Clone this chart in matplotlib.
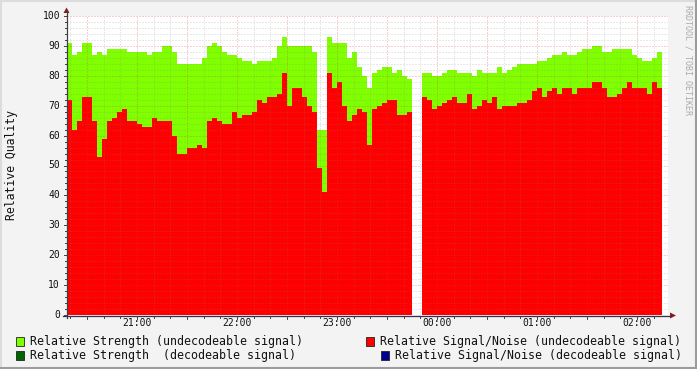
import numpy as np
import matplotlib
matplotlib.use("Agg")
import matplotlib.pyplot as plt
from matplotlib.patches import Rectangle, Polygon
from matplotlib.lines import Line2D

nan = float("nan")

# time axis: hours relative to 21:00, 3-minute steps
start_hour = -0.70
step_hour = 0.05

strength_undec = [
    91, 87, 88, 91, 91, 87, 88, 87, 89, 89, 89, 89, 88, 88, 88, 88, 87, 88, 88, 90,
    90, 88, 84, 84, 84, 84, 84, 86, 90, 91, 90, 88, 87, 87, 86, 85, 85, 84, 85, 85,
    85, 86, 90, 93, 90, 90, 90, 90, 90, 88, 62, 62, 93, 91, 91, 91, 86, 88, 83, 80,
    76, 81, 82, 83, 83, 81, 82, 80, 79, nan, nan, 81, 81, 80, 80, 81, 82, 82, 81, 81,
    81, 80, 82, 81, 81, 81, 83, 81, 82, 83, 84, 84, 84, 84, 85, 85, 86, 87, 87, 88,
    87, 87, 88, 89, 89, 90, 90, 88, 88, 89, 89, 89, 89, 87, 86, 85, 85, 86, 88,
]
snr_undec = [
    72, 62, 65, 73, 73, 65, 53, 59, 65, 66, 68, 69, 65, 65, 64, 63, 63, 66, 65, 65,
    65, 60, 54, 54, 56, 56, 57, 56, 65, 66, 65, 64, 64, 68, 66, 67, 67, 68, 72, 71,
    73, 73, 74, 81, 70, 76, 76, 73, 70, 68, 49, 41, 81, 76, 78, 70, 65, 67, 69, 68,
    57, 69, 70, 71, 72, 72, 67, 67, 68, nan, nan, 73, 72, 69, 70, 71, 72, 73, 71, 71,
    74, 69, 70, 72, 71, 73, 69, 70, 70, 70, 71, 71, 72, 75, 76, 73, 75, 76, 74, 76,
    76, 74, 76, 76, 76, 78, 78, 76, 73, 73, 74, 76, 78, 76, 76, 76, 74, 78, 76,
]

tick_hours = [0, 1, 2, 3, 4, 5]
tick_labels = ["21:00", "22:00", "23:00", "00:00", "01:00", "02:00"]
y_ticks = [0, 10, 20, 30, 40, 50, 60, 70, 80, 90, 100]

legend_labels = [
    "Relative Strength (undecodeable signal)",
    "Relative Signal/Noise (undecodeable signal)",
    "Relative Strength  (decodeable signal)",
    "Relative Signal/Noise (decodeable signal)",
]

W, H = 697, 369
BG = "#f3f3f3"
GREEN = "#80ff00"
RED = "#ff0000"
DGREEN = "#006400"
BLUE = "#000090"
MONO = "DejaVu Sans Mono"

fig = plt.figure(figsize=(W / 100, H / 100), dpi=100, facecolor=BG)

L, R, T, B = 67, 668, 16, 315
ax = fig.add_axes([L / W, (H - B) / H, (R - L) / W, (B - T) / H])
ax.set_facecolor("white")
xmin, xmax = -0.70, (R - 137) / 100.0
ax.set_xlim(xmin, xmax)
ax.set_ylim(0, 100)
for s in ax.spines.values():
    s.set_visible(False)
ax.set_xticks([])
ax.set_yticks([])

n = len(strength_undec)
xs = start_hour + step_hour * np.arange(n)
g = np.array(strength_undec, dtype=float)
r = np.array(snr_undec, dtype=float)
gm = ~np.isnan(g)
rm = ~np.isnan(r)
ax.bar(xs[gm], g[gm], width=step_hour, align="edge", color=GREEN,
       linewidth=0, antialiased=False, zorder=2)
ax.bar(xs[rm], r[rm], width=step_hour, align="edge", color=RED,
       linewidth=0, antialiased=False, zorder=3)

# grid (on top of data, like rrdtool)
minor_c = (0.5, 0.5, 0.5, 0.35)
major_c = (0.85, 0.2, 0.2, 0.45)
dots = (0, (1, 2))
for yv in range(0, 101, 2):
    if yv % 10 == 0:
        continue
    ax.axhline(yv, color=minor_c, lw=0.72, ls=dots, zorder=5)
for yv in y_ticks[1:]:
    ax.axhline(yv, color=major_c, lw=0.72, ls=dots, zorder=6)
m = -40
while m / 60 <= xmax:
    h = m / 60
    if h >= xmin:
        if m % 30 == 0:
            ax.axvline(h, color=major_c, lw=0.72, ls=dots, zorder=6)
        else:
            ax.axvline(h, color=minor_c, lw=0.72, ls=dots, zorder=5)
    m += 10

# overlay in pixel coordinates
ov = fig.add_axes([0, 0, 1, 1], facecolor="none")
ov.set_xlim(0, W)
ov.set_ylim(H, 0)
ov.axis("off")

# frame
ov.add_line(Line2D([0, W], [0.8, 0.8], color="#dcdcdc", lw=1.5))
ov.add_line(Line2D([0.8, 0.8], [0, H], color="#dcdcdc", lw=1.5))
ov.add_line(Line2D([0, W], [H - 0.8, H - 0.8], color="#9c9c9c", lw=1.5))
ov.add_line(Line2D([W - 0.8, W - 0.8], [0, H], color="#9c9c9c", lw=1.5))

# axes lines + arrows
AX = "#404040"
ARC = "#8b1a1a"
ov.add_line(Line2D([66.5, 66.5], [318, 10], color=AX, lw=0.9))
ov.add_line(Line2D([63, 671], [315.5, 315.5], color="#303050", lw=0.9))
ov.add_patch(Polygon([[63.5, 13], [69.5, 13], [66.5, 7.5]], closed=True, color=ARC, lw=0))
ov.add_patch(Polygon([[670, 312.5], [670, 318.5], [676, 315.5]], closed=True, color=ARC, lw=0))

# axis tick marks
for yv in range(0, 101, 2):
    yp = B - yv * (B - T) / 100
    ln = 3 if yv % 10 == 0 else 2
    ov.add_line(Line2D([66.5 - ln, 66.5], [yp, yp], color=AX, lw=0.7))
m = -40
while m / 60 <= xmax:
    h = m / 60
    if h >= xmin:
        xp = 137 + h * 100
        ln = 3 if m % 30 == 0 else 2
        ov.add_line(Line2D([xp, xp], [315.5, 315.5 + ln], color=AX, lw=0.7))
    m += 10

# tick labels
for yv in y_ticks:
    yp = B - yv * (B - T) / 100
    ov.text(60, yp, str(yv), family=MONO, fontsize=7, ha="right", va="center", color="#111111")
for h, lab in zip(tick_hours, tick_labels):
    ov.text(137 + h * 100, 323.5, lab, family=MONO, fontsize=7, ha="center", va="center", color="#111111")

ov.text(12, 165, "Relative Quality", family=MONO, fontsize=8.3, rotation=90,
        ha="center", va="center", color="#111111")
ov.text(688, 60, "RRDTOOL / TOBI OETIKER", family=MONO, fontsize=6, rotation=270,
        ha="center", va="center", color="#aaaaaa")

# legend
legend_items = [
    (15.5, 341, GREEN, 30, legend_labels[0]),
    (365.5, 341, RED, 380, legend_labels[1]),
    (15.5, 355, DGREEN, 30, legend_labels[2]),
    (380.5, 355, BLUE, 395, legend_labels[3]),
]
for sx, sy, col, tx, lab in legend_items:
    ov.add_patch(Rectangle((sx, sy - 4.5), 8, 9, facecolor=col, edgecolor="#222222", lw=0.6))
    ov.text(tx, sy, lab, family=MONO, fontsize=8.42, ha="left", va="center", color="#111111")

fig.savefig("out.png", dpi=100, facecolor=BG)
